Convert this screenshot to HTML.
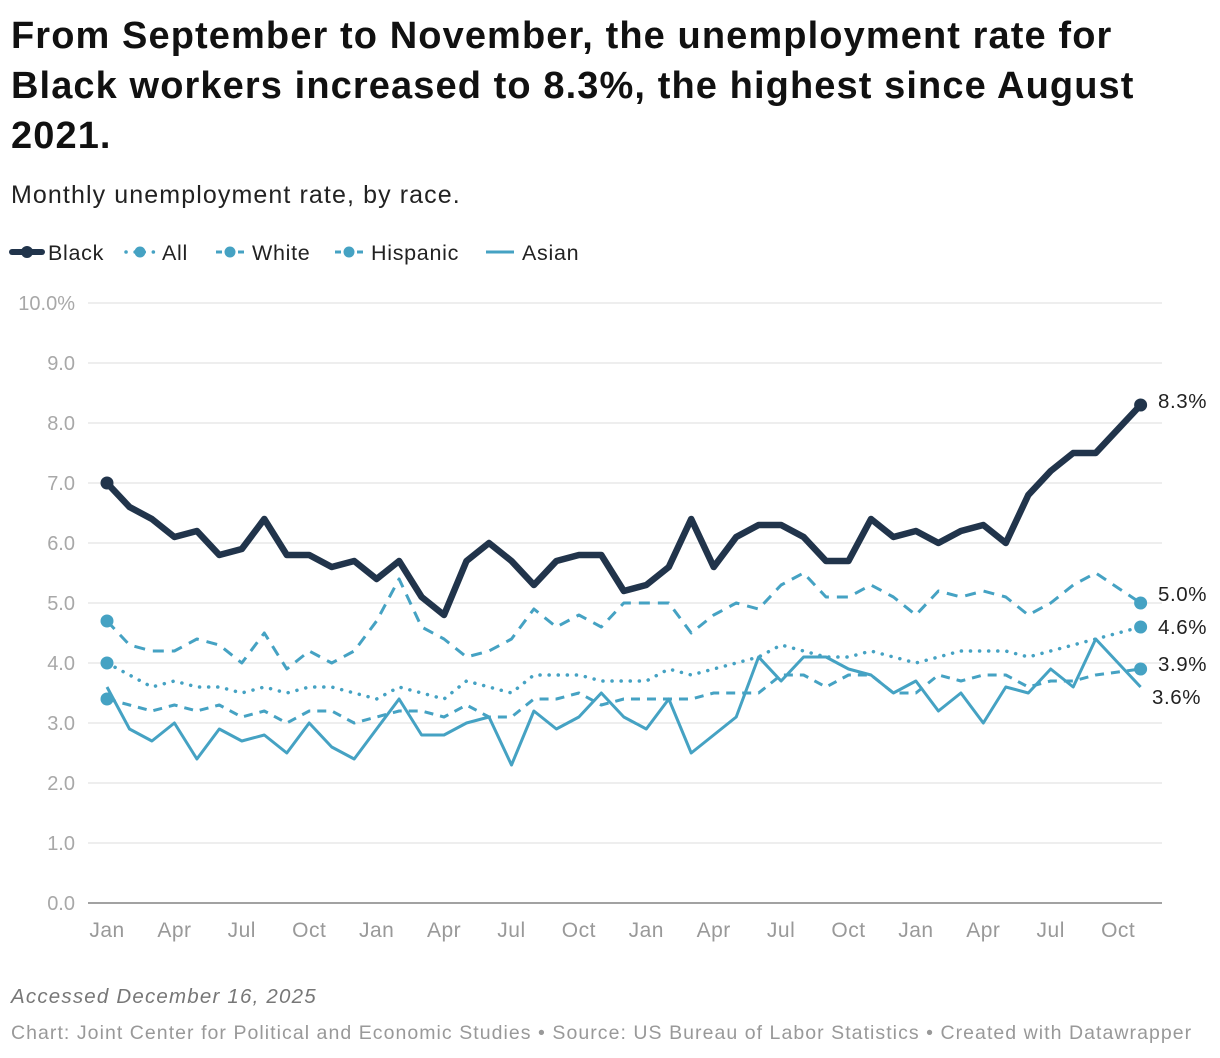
<!DOCTYPE html>
<html><head><meta charset="utf-8">
<style>
body{margin:0;background:#fff;font-family:"Liberation Sans",sans-serif;}
#wrap{position:relative;width:1220px;height:1058px;overflow:hidden;}
h1{position:absolute;left:11px;top:11px;margin:0;font-size:38px;line-height:50px;font-weight:700;color:#111;width:1210px;letter-spacing:1.1px;white-space:nowrap}
.sub{position:absolute;left:11px;top:181px;font-size:25px;color:#222;letter-spacing:1.1px}
.acc{position:absolute;left:11px;top:985px;font-size:20.5px;font-style:italic;color:#777;letter-spacing:1.2px}
.src{position:absolute;left:11px;top:1022px;font-size:19.5px;color:#999;letter-spacing:1.05px;white-space:nowrap}
svg{position:absolute;left:0;top:0}
</style></head><body>
<div id="wrap">
<h1>From September to November, the unemployment rate for<br>Black workers increased to 8.3%, the highest since August<br>2021.</h1>
<div class="sub">Monthly unemployment rate, by race.</div>
<svg id="chart" width="1220" height="1058"></svg>
<div class="acc">Accessed December 16, 2025</div>
<div class="src">Chart: Joint Center for Political and Economic Studies • Source: US Bureau of Labor Statistics • Created with Datawrapper</div>
</div>
<script>
const yTicks=[0,1,2,3,4,5,6,7,8,9,10];
const xTickLabels=["Jan","Apr","Jul","Oct","Jan","Apr","Jul","Oct","Jan","Apr","Jul","Oct","Jan","Apr","Jul","Oct"];
const xTickIdx=[0,3,6,9,12,15,18,21,24,27,30,33,36,39,42,45];
const black=[7.0,6.6,6.4,6.1,6.2,5.8,5.9,6.4,5.8,5.8,5.6,5.7,5.4,5.7,5.1,4.8,5.7,6.0,5.7,5.3,5.7,5.8,5.8,5.2,5.3,5.6,6.4,5.6,6.1,6.3,6.3,6.1,5.7,5.7,6.4,6.1,6.2,6.0,6.2,6.3,6.0,6.8,7.2,7.5,7.5,null,8.3];
const hispanic=[4.7,4.3,4.2,4.2,4.4,4.3,4.0,4.5,3.9,4.2,4.0,4.2,4.7,5.4,4.6,4.4,4.1,4.2,4.4,4.9,4.6,4.8,4.6,5.0,5.0,5.0,4.5,4.8,5.0,4.9,5.3,5.5,5.1,5.1,5.3,5.1,4.8,5.2,5.1,5.2,5.1,4.8,5.0,5.3,5.5,null,5.0];
const all=[4.0,3.8,3.6,3.7,3.6,3.6,3.5,3.6,3.5,3.6,3.6,3.5,3.4,3.6,3.5,3.4,3.7,3.6,3.5,3.8,3.8,3.8,3.7,3.7,3.7,3.9,3.8,3.9,4.0,4.1,4.3,4.2,4.1,4.1,4.2,4.1,4.0,4.1,4.2,4.2,4.2,4.1,4.2,4.3,4.4,null,4.6];
const white=[3.4,3.3,3.2,3.3,3.2,3.3,3.1,3.2,3.0,3.2,3.2,3.0,3.1,3.2,3.2,3.1,3.3,3.1,3.1,3.4,3.4,3.5,3.3,3.4,3.4,3.4,3.4,3.5,3.5,3.5,3.8,3.8,3.6,3.8,3.8,3.5,3.5,3.8,3.7,3.8,3.8,3.6,3.7,3.7,3.8,null,3.9];
const asian=[3.6,2.9,2.7,3.0,2.4,2.9,2.7,2.8,2.5,3.0,2.6,2.4,2.9,3.4,2.8,2.8,3.0,3.1,2.3,3.2,2.9,3.1,3.5,3.1,2.9,3.4,2.5,2.8,3.1,4.1,3.7,4.1,4.1,3.9,3.8,3.5,3.7,3.2,3.5,3.0,3.6,3.5,3.9,3.6,4.4,null,3.6];
const legendNames=["Black","All","White","Hispanic","Asian"];

const NS="http://www.w3.org/2000/svg";
const svg=document.getElementById('chart');
const X0=107,DX=22.47,Y0=903,DY=60,GX1=88,GX2=1162;
const xs=i=>X0+i*DX, ys=v=>Y0-v*DY;
function mk(tag,attrs,parent){const e=document.createElementNS(NS,tag);for(const k in attrs)e.setAttribute(k,attrs[k]);(parent||svg).appendChild(e);return e;}
const BLUE="#45a2c3",DARK="#21344b";
yTicks.forEach(v=>{
  const l=mk('line',{x1:GX1,x2:GX2,y1:ys(v),y2:ys(v),stroke:v===0?'#444':'#e3e3e3','stroke-width':v===0?1:1.3});
  
  
  const t=mk('text',{x:75,y:ys(v)+7,'text-anchor':'end','font-size':20,fill:'#a8a8a8','font-family':'Liberation Sans'});
  t.textContent=v===10?'10.0%':v.toFixed(1);
  
  
});
xTickLabels.forEach((lab,k)=>{
  const t=mk('text',{x:xs(xTickIdx[k]),y:937,'text-anchor':'middle','font-size':21,fill:'#999','font-family':'Liberation Sans','letter-spacing':'0.5'});
  t.textContent=lab;
  
  
});
function pathFor(arr){let d='';arr.forEach((v,i)=>{if(v==null)return;d+=(d?'L':'M')+xs(i).toFixed(1)+' '+ys(v).toFixed(1);});return d;}
const series=[
 {n:'asian',a:asian,c:BLUE,w:3,dash:null,dot:false},
 {n:'white',a:white,c:BLUE,w:3,dash:'9 7',dot:true},
 {n:'all',a:all,c:BLUE,w:3.5,dash:'0.1 9',dot:true},
 {n:'hispanic',a:hispanic,c:BLUE,w:3,dash:'11 8',dot:true},
 {n:'black',a:black,c:DARK,w:6.5,dash:null,dot:true}
];
series.forEach(s=>{
  const p=mk('path',{d:pathFor(s.a),fill:'none',stroke:s.c,'stroke-width':s.w,'stroke-linejoin':'round','stroke-linecap':s.n==='all'?'round':'butt'});
  if(s.dash)p.setAttribute('stroke-dasharray',s.dash);
  
  
  if(s.dot){
    [0,s.a.length-1].forEach(i=>{
      const c=mk('circle',{cx:xs(i),cy:ys(s.a[i]),r:6.5,fill:s.c});
      
      
    });
  }
});
const last=black.length-1;
const endLabels=[[black,'black',1158,-4],[hispanic,'hispanic',1158,-9],[all,'all',1158,0],[white,'white',1158,-5],[asian,'asian',1152,10]];
endLabels.forEach(([a,n,x,dy])=>{
  const t=mk('text',{x:x,y:ys(a[last])+7+dy,'font-size':20.5,fill:'#222','font-family':'Liberation Sans','letter-spacing':'0.6'});
  t.textContent=a[last].toFixed(1)+'%';
  
  
});
const legX=[12,126,216,335,486];
legendNames.forEach((nm,k)=>{
  const g=mk('g',{});
  
  
  const x=legX[k],y=252;
  if(k===0){mk('line',{x1:x,x2:x+30,y1:y,y2:y,stroke:DARK,'stroke-width':6,'stroke-linecap':'round'},g);mk('circle',{cx:x+15,cy:y,r:6,fill:DARK},g);}
  else if(k===1){mk('line',{x1:x,x2:x+28,y1:y,y2:y,stroke:BLUE,'stroke-width':3.5,'stroke-dasharray':'0.1 9','stroke-linecap':'round'},g);mk('circle',{cx:x+14,cy:y,r:5.5,fill:BLUE},g);}
  else if(k<4){mk('line',{x1:x,x2:x+28,y1:y,y2:y,stroke:BLUE,'stroke-width':3,'stroke-dasharray':'6 5'},g);mk('circle',{cx:x+14,cy:y,r:5.5,fill:BLUE},g);}
  else{mk('line',{x1:x,x2:x+28,y1:y,y2:y,stroke:BLUE,'stroke-width':3},g);}
  const t=mk('text',{x:x+36,y:y+8,'font-size':21.5,fill:'#222','font-family':'Liberation Sans','letter-spacing':'0.7'},g);
  t.textContent=nm;
});
</script>
</body></html>
